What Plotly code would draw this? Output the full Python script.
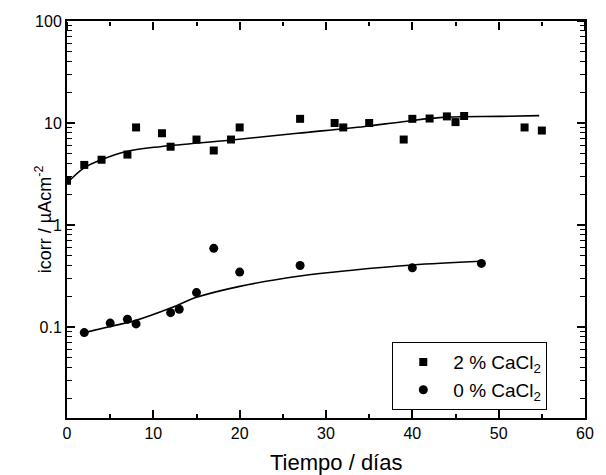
import plotly.graph_objects as go

# Measured data: 2 % CaCl2
days_2 = [0, 2, 4, 7, 8, 11, 12, 15, 17, 19, 20, 27, 31, 32, 35, 39, 40, 42, 44, 45, 46, 53, 55]
icorr_2 = [2.71, 3.88, 4.36, 4.9, 9.04, 7.93, 5.85, 6.88, 5.37, 6.88, 9.04, 10.98, 10.0, 9.04,
           10.0, 6.88, 10.98, 11.06, 11.6, 10.2, 11.7, 9.04, 8.43]

# Measured data: 0 % CaCl2
days_0 = [2, 5, 7, 8, 12, 13, 15, 17, 20, 27, 40, 48]
icorr_0 = [0.088, 0.109, 0.119, 0.107, 0.138, 0.149, 0.217, 0.59, 0.345, 0.40, 0.38, 0.42]

# Fitted curves
fit_days_2 = [0, 1.9, 3.9, 7.0, 11.0, 18.8, 26.7, 34.5, 38.9, 43.9, 50.2, 54.7]
fit_icorr_2 = [2.57, 3.59, 4.33, 5.28, 5.89, 6.78, 7.93, 9.25, 10.3, 11.4, 11.6, 11.8]

fit_days_0 = [2, 5, 8, 12, 15, 20, 27, 33, 40, 48]
fit_icorr_0 = [0.088, 0.101, 0.116, 0.153, 0.195, 0.25, 0.316, 0.36, 0.405, 0.44]

x_ticks = [0, 10, 20, 30, 40, 50, 60]
y_ticks = [0.1, 1, 10, 100]
y_tick_text = ["0.1", "1", "10", "100"]

X_RANGE = [0, 60]
Y_RANGE = [-1.893, 2]

FONT = "Liberation Sans, Arial, sans-serif"

fig = go.Figure()
# fitted lines are drawn on the mirrored (top/right) axes, which share the same ranges
fig.add_trace(go.Scatter(x=fit_days_2, y=fit_icorr_2, mode="lines", xaxis="x2", yaxis="y2",
                         line=dict(color="black", width=1.6, shape="spline"),
                         showlegend=False, hoverinfo="skip"))
fig.add_trace(go.Scatter(x=fit_days_0, y=fit_icorr_0, mode="lines", xaxis="x2", yaxis="y2",
                         line=dict(color="black", width=1.6, shape="spline"),
                         showlegend=False, hoverinfo="skip"))
fig.add_trace(go.Scatter(x=days_2, y=icorr_2, mode="markers", name="2 % CaCl<sub>2</sub>",
                         marker=dict(symbol="square", size=8, color="black")))
fig.add_trace(go.Scatter(x=days_0, y=icorr_0, mode="markers", name="0 % CaCl<sub>2</sub>",
                         marker=dict(symbol="circle", size=9, color="black")))

tick_common = dict(ticks="inside", tickcolor="black", tickwidth=1.5, ticklen=8,
                   showgrid=False, zeroline=False,
                   tickfont=dict(family=FONT, size=16, color="black"))
x_minor = dict(ticks="inside", ticklen=4, tickwidth=1.5, tickcolor="black", dtick=5, showgrid=False)
y_minor = dict(ticks="inside", ticklen=5, tickwidth=1.2, tickcolor="black", dtick="D1", showgrid=False)

# mirrored axes: placed on the top / right edges, with "outside" ticks pointing into the plot
mirror_common = dict(ticks="outside", tickcolor="black", tickwidth=1.5, ticklen=8,
                     showgrid=False, zeroline=False, showticklabels=False, showline=False,
                     automargin=False)
x_minor_m = dict(x_minor, ticks="outside")
y_minor_m = dict(y_minor, ticks="outside")

fig.update_layout(
    xaxis=dict(range=X_RANGE, tickvals=x_ticks, minor=x_minor, showline=True, linecolor="black",
               linewidth=2, mirror=True, **tick_common),
    yaxis=dict(type="log", range=Y_RANGE, tickvals=y_ticks, ticktext=y_tick_text, minor=y_minor,
               showline=True, linecolor="black", linewidth=2, mirror=True, **tick_common),
    xaxis2=dict(overlaying="x", side="bottom", anchor="free", position=1, range=X_RANGE,
                tickvals=x_ticks, minor=x_minor_m, **mirror_common),
    yaxis2=dict(overlaying="y", side="left", anchor="free", position=1, type="log", range=Y_RANGE,
                tickvals=y_ticks, minor=y_minor_m, **mirror_common),
    width=606, height=475,
    margin=dict(l=67, r=13, t=21, b=57),
    paper_bgcolor="white", plot_bgcolor="white",
    font=dict(family=FONT, color="black"),
    legend=dict(x=0.628, y=0.191, xanchor="left", yanchor="top",
                bordercolor="black", borderwidth=1, bgcolor="white",
                font=dict(family=FONT, size=19, color="black"),
                itemwidth=50, tracegroupgap=0),
    annotations=[
        dict(text="Tiempo / días", xref="paper", yref="paper", x=0.52, y=-0.112,
             xanchor="center", yanchor="middle", showarrow=False,
             font=dict(family=FONT, size=22, color="black")),
        dict(text="icorr / µAcm<sup>-2</sup>", xref="paper", yref="paper", x=-0.045, y=0.5,
             xanchor="center", yanchor="middle", showarrow=False, textangle=-90,
             font=dict(family=FONT, size=18, color="black")),
    ],
)

fig.write_html("out.html", config={"displayModeBar": False},
               post_script="document.body.style.margin='0';document.body.style.overflow='hidden';")
